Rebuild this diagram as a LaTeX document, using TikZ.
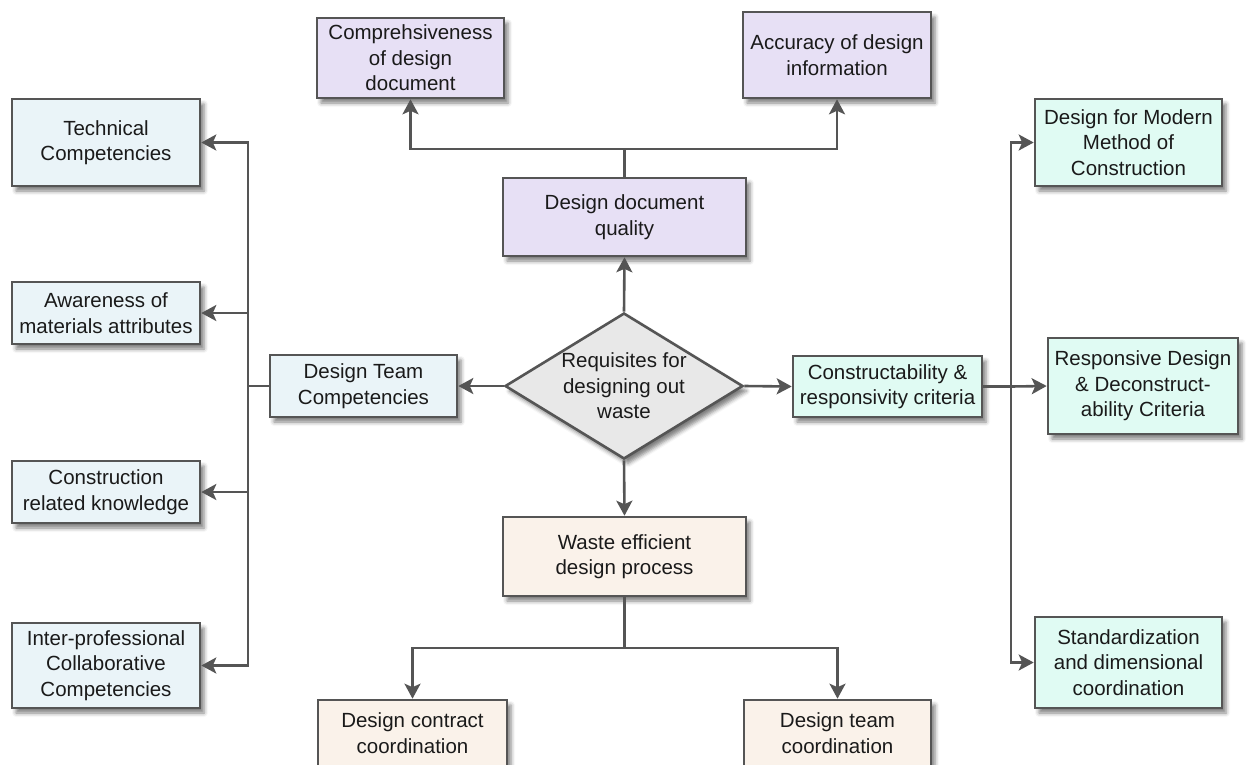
\documentclass[tikz,border=0pt]{standalone}
\usepackage{fontspec}
\setmainfont{Liberation Sans}
\usetikzlibrary{shapes.geometric,arrows.meta,shadows.blur}

\definecolor{edge}{HTML}{555555}
\definecolor{ink}{HTML}{1A1A1A}
\definecolor{fillblue}{HTML}{EAF4F8}
\definecolor{fillpurple}{HTML}{E7E0F5}
\definecolor{fillmint}{HTML}{E0FBF3}
\definecolor{fillpeach}{HTML}{FAF2EA}
\definecolor{fillgrey}{HTML}{E8E8E8}

\tikzset{
  box/.style={draw=edge, line width=2.6pt, rectangle, align=center,
    text=ink, inner sep=0pt,
    font=\fontsize{20.5}{25.5}\selectfont,
    blur shadow={shadow xshift=4pt, shadow yshift=-5pt,
      shadow blur radius=4pt, shadow opacity=50}},
  bluebox/.style={box, fill=fillblue},
  purplebox/.style={box, fill=fillpurple},
  mintbox/.style={box, fill=fillmint},
  peachbox/.style={box, fill=fillpeach},
  decision/.style={draw=edge, line width=2.6pt, diamond, fill=fillgrey,
    inner sep=0pt, minimum width=238pt, minimum height=146pt,
    blur shadow={shadow xshift=4pt, shadow yshift=-5pt,
      shadow blur radius=4pt, shadow opacity=50}},
  dtext/.style={align=center, text=ink, inner sep=0pt,
    font=\fontsize{20.5}{25.5}\selectfont},
  link/.style={draw=edge, line width=2.6pt},
  arr/.style={link, -{Stealth[length=15pt, width=16pt, inset=3.5pt]}},
}

\begin{document}
\begin{tikzpicture}[x=1pt, y=-1pt]
\useasboundingbox (0,0) rectangle (1254,764);

% centre decision
\node[decision] (req) at (624,386) {};
\node[dtext] (reqtext) at (req.center) {Requisites for\\designing out\\waste};

% first level
\node[purplebox, minimum width=243pt, minimum height=78pt] (ddq) at (624.5,217) {Design document\\quality};
\node[peachbox, minimum width=243pt, minimum height=79pt] (wedp) at (624.5,556.5) {Waste efficient\\design process};
\node[bluebox, minimum width=187pt, minimum height=62pt] (dtc) at (363.5,386) {Design Team\\Competencies};
\node[mintbox, minimum width=189pt, minimum height=61pt] (crc) at (887.5,386.5) {Constructability \&\\responsivity criteria};

% design document branch
\node[purplebox, minimum width=187pt, minimum height=80pt] (comp) at (410.5,58) {Comprehsiveness\\of design\\document};
\node[purplebox, minimum width=188pt, minimum height=86pt] (acc) at (837,55) {Accuracy of design\\information};

% competencies branch
\node[bluebox, minimum width=188pt, minimum height=87pt] (tech) at (106,142.5) {Technical\\Competencies};
\node[bluebox, minimum width=188pt, minimum height=62pt] (aware) at (106,313) {Awareness of\\materials attributes};
\node[bluebox, minimum width=188pt, minimum height=62pt] (constr) at (106,492) {Construction\\related knowledge};
\node[bluebox, minimum width=188pt, minimum height=85pt] (inter) at (106,665.5) {Inter-professional\\Collaborative\\Competencies};

% constructability branch
\node[mintbox, minimum width=187pt, minimum height=87pt] (dmm) at (1128.5,142.5) {Design for Modern\\Method of\\Construction};
\node[mintbox, minimum width=190pt, minimum height=96pt] (resp) at (1143,386) {Responsive Design\\\& Deconstruct-\\ability Criteria};
\node[mintbox, minimum width=187pt, minimum height=91pt] (std) at (1128.5,662.5) {Standardization\\and dimensional\\coordination};

% design process branch
\node[peachbox, minimum width=189pt, minimum height=66pt] (dcc) at (412.5,733) {Design contract\\coordination};
\node[peachbox, minimum width=187pt, minimum height=66pt] (dtco) at (837.5,733) {Design team\\coordination};

% junction points
\coordinate (lbus) at (248,386);
\coordinate (rbus) at (1011,386.5);
\coordinate (tjoin) at (624.5,149);
\coordinate (bjoin) at (624.5,648);

% connectors from the decision
\draw[arr] (req.north) -- (ddq.south);
\draw[arr] (req.south) -- (wedp.north);
\draw[arr] (req.west) -- (dtc.east);
\draw[arr] (req.east) -- (crc.west);

% top branch
\draw[link] (ddq.north) -- (tjoin);
\draw[arr] (tjoin) -| (comp.south);
\draw[arr] (tjoin) -| (acc.south);

% bottom branch
\draw[link] (wedp.south) -- (bjoin);
\draw[arr] (bjoin) -| (dcc.north);
\draw[arr] (bjoin) -| (dtco.north);

% left branch
\draw[link] (dtc.west) -- (lbus);
\draw[arr] (lbus) |- (tech.east);
\draw[arr] (lbus) |- (aware.east);
\draw[arr] (lbus) |- (constr.east);
\draw[arr] (lbus) |- (inter.east);

% right branch
\draw[link] (crc.east) -- (rbus);
\draw[arr] (rbus) |- (dmm.west);
\draw[arr] (rbus) -- (resp.west);
\draw[arr] (rbus) |- (std.west);
\end{tikzpicture}
\end{document}
